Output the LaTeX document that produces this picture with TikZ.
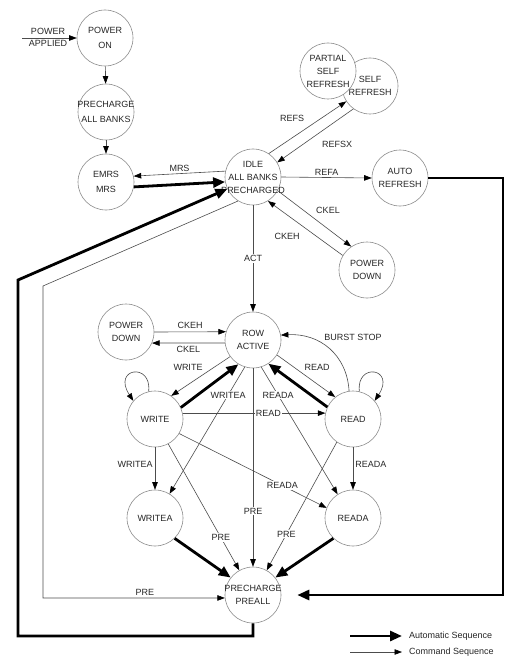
\documentclass[tikz,border=0pt]{standalone}
\usepackage{fontspec}
\setmainfont{Liberation Sans}
\usetikzlibrary{arrows.meta}
\begin{document}
\begin{tikzpicture}[x=1pt,y=-1pt,
  st/.style={circle, draw=black!45, line width=0.6pt, minimum size=56pt, inner sep=0pt, fill=white},
  lbl/.style={font=\fontsize{9}{13}\selectfont, align=center, text=black!85},
  lbltop/.style={font=\fontsize{9}{15.5}\selectfont, align=center, text=black!85},
  tl/.style={font=\fontsize{9}{11}\selectfont, inner sep=1pt, text=black!85},
  el/.style={tl, fill=white},
  cseq/.style={draw=black!70, line width=0.6pt, -{Triangle[length=7.5pt,width=5.5pt,color=black,fill=black]}},
  aseq/.style={draw=black, line width=2.8pt, -{Triangle[length=12pt,width=10pt]}}]
\useasboundingbox (0,0) rectangle (516,663);
% states
\node[st,label={[lbltop]center:{POWER\\ON}}] (pon) at (105,38) {};
\node[st,label={[lbltop]center:{PRECHARGE\\ALL BANKS}}] (pab) at (106,112) {};
\node[st,label={[lbltop]center:{EMRS\\MRS}}] (emrs) at (106,182) {};
\node[st,label={[lbl]center:{IDLE\\ALL BANKS\\PRECHARGED}}] (idle) at (253,177) {};
\node[st,label={[lbl]center:{SELF\\REFRESH}}] (sr) at (370,86) {};
\node[st,label={[lbl]center:{PARTIAL\\SELF\\REFRESH}}] (psr) at (328,71) {};
\node[st,label={[lbl]center:{AUTO\\REFRESH}}] (aref) at (400,178) {};
\node[st,label={[lbl]center:{POWER\\DOWN}}] (pdt) at (367,270) {};
\node[st,label={[lbl]center:{ROW\\ACTIVE}}] (ra) at (253,340) {};
\node[st,label={[lbl]center:{POWER\\DOWN}}] (pdl) at (126,332) {};
\node[st,label={[lbl]center:{WRITE}}] (wr) at (155,419) {};
\node[st,label={[lbl]center:{READ}}] (rd) at (353,419) {};
\node[st,label={[lbl]center:{WRITEA}}] (wra) at (155,518) {};
\node[st,label={[lbl]center:{READA}}] (rda) at (353,518) {};
\node[st,label={[lbl]center:{PRECHARGE\\PREALL}}] (pre) at (253,595) {};
% coordinates for free ends and corners
\coordinate (pa) at (22,38);
\coordinate (bl) at (18,636);
\coordinate (tl1) at (18,280);
\coordinate (tl2) at (43,286);
\coordinate (ar1) at (503,178);
\coordinate (la1) at (350,636);
\coordinate (la2) at (402,636);
\coordinate (lc1) at (350,652);
\coordinate (lc2) at (402,652);
% power-up sequence
\draw[cseq] (pa) -- (pon);
\node[tl] at (48,31.5) {POWER};
\node[tl] at (48,43.5) {APPLIED};
\draw[cseq] (pon) -- (pab);
\draw[cseq] (pab) -- (emrs);
\draw[cseq] (idle.168) -- node[tl,above=1pt]{MRS} (emrs.12);
\draw[aseq] (emrs.350) -- (idle.190);
% long returns
\draw[aseq] (pre.south) |- (bl) -- (tl1) -- (idle.205);
\draw[cseq] (idle.238) -- (tl2) |- node[tl,pos=0.78,above=1pt]{PRE} (pre.186);
% refresh
\draw[cseq] (idle.56) -- (sr.213);
\node[tl] at (292,118) {REFS};
\draw[cseq] (sr.234) -- (idle.31);
\node[tl] at (337,144) {REFSX};
\draw[cseq] (idle.east) -- node[tl,above=1pt]{REFA} (aref.west);
\draw[aseq, shorten >=16pt] (aref.east) -- (ar1) |- (pre.east);
% power down (idle)
\draw[cseq] (idle.331) -- (pdt.124);
\node[tl] at (328,210) {CKEL};
\draw[cseq] (pdt.149) -- (idle.302);
\node[tl] at (287,236) {CKEH};
\draw[cseq] (idle) -- node[el]{ACT} (ra);
% power down (active)
\draw[cseq] (pdl.east) -- node[tl,above=2pt]{CKEH} (ra.163);
\draw[cseq] (ra.186) -- node[tl,below=2pt]{CKEL} (pdl.337);
% row active <-> write/read
\draw[cseq] (ra.216) -- (wr.55);
\node[tl] at (188,367) {WRITE};
\draw[aseq] (wr.24) -- (ra.239);
\draw[cseq] (ra.328) -- (rd.129);
\node[tl] at (317,367) {READ};
\draw[aseq] (rd.155) -- (ra.303);
\draw[cseq] (rd.98) .. controls (347,355) and (320,333) .. (ra.10);
\node[tl] at (353,337) {BURST STOP};
\draw[cseq] (wr.103) .. controls (152,362) and (112,368) .. (wr.140);
\draw[cseq] (rd.77) .. controls (356,362) and (396,368) .. (rd.40);
\draw[cseq] (wr.12) -- node[el,pos=0.6]{READ} (rd.168);
% to auto-precharge states
\draw[cseq] (ra.253) -- node[el,pos=0.22]{WRITEA} (wra.59);
\draw[cseq] (ra.287) -- node[el,pos=0.22]{READA} (rda.123);
\draw[cseq] (wr) -- node[tl,pos=0.4,left=1pt]{WRITEA} (wra);
\draw[cseq] (rd) -- node[tl,pos=0.4,right=1pt]{READA} (rda);
\draw[cseq] (wr.329) -- node[el,pos=0.7]{READA} (rda.159);
% precharge
\draw[cseq] (ra) -- node[el,pos=0.72]{PRE} (pre);
\draw[cseq] (wr.298) -- node[el,pos=0.74]{PRE} (pre.119);
\draw[cseq] (rd.235) -- node[el,pos=0.72]{PRE} (pre.61);
\draw[aseq] (wra.314) -- (pre.142);
\draw[aseq] (rda.226) -- (pre.38);
% legend
\draw[aseq] (la1) -- (la2);
\node[tl,anchor=west] at (408,636) {Automatic Sequence};
\draw[cseq] (lc1) -- (lc2);
\node[tl,anchor=west] at (408,652) {Command Sequence};
\end{tikzpicture}
\end{document}
